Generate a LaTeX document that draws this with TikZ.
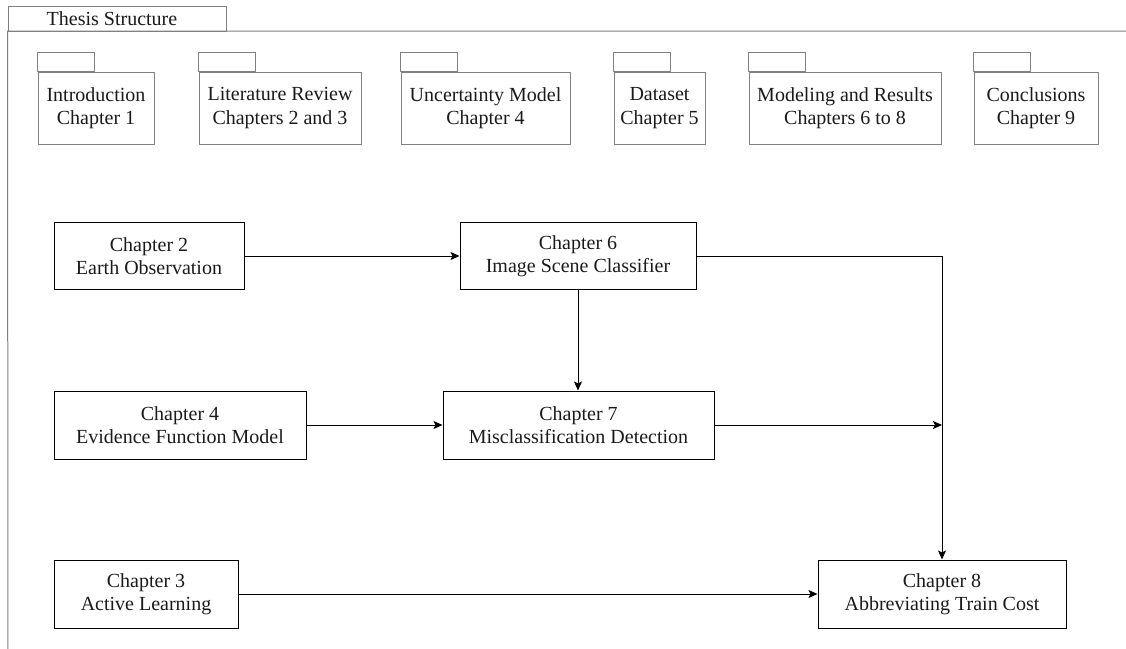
\documentclass[tikz,border=0pt]{standalone}
\usepackage{fontspec}
\setmainfont{Liberation Serif}
\usetikzlibrary{arrows.meta}
\definecolor{pkgline}{HTML}{808080}
\definecolor{txt}{HTML}{1A1A1A}
\tikzset{
  box/.style={draw=black, line width=1pt, rectangle, align=center, inner sep=0pt,
    text=txt, font=\fontsize{20}{23.5}\selectfont, minimum height=67pt},
  pkg/.style={draw=pkgline, line width=1pt, rectangle, align=center, inner sep=0pt,
    text=txt, font=\fontsize{20}{23.5}\selectfont, minimum height=72pt},
  pkgtab/.style={draw=pkgline, line width=1pt},
  frameline/.style={draw=pkgline, line width=1pt},
  link/.style={draw=black, line width=1pt, -{Stealth[length=9pt,width=8pt,inset=2pt]}},
}
\begin{document}
\begin{tikzpicture}[x=1pt, y=-1pt]
\useasboundingbox (0,0) rectangle (1126,648);

% outer frame with its title tab
\node[pkg, minimum width=218pt, minimum height=25pt] (frametab) at (117,18.5) {};
\node[text=txt, font=\fontsize{20}{23.5}\selectfont, inner sep=0pt, anchor=base] (frametitle) at (112,25) {Thesis Structure};
\coordinate (frameright) at (1130,31);
\coordinate (framebottom) at (8,652);
\draw[frameline] (frameright) -- (frametab.south west |- frameright) -- (framebottom);

% chapter packages
\node[pkg, minimum width=116pt] (p1) at (96,108)    {Introduction\\Chapter 1};
\node[pkg, minimum width=162pt] (p2) at (280,108)   {Literature Review\\Chapters 2 and 3};
\node[pkg, minimum width=169pt] (p3) at (485.5,108) {Uncertainty Model\\Chapter 4};
\node[pkg, minimum width=91pt]  (p4) at (659.5,108) {Dataset\\Chapter 5};
\node[pkg, minimum width=192pt] (p5) at (845,108)   {Modeling and Results\\Chapters 6 to 8};
\node[pkg, minimum width=124pt] (p6) at (1036,108)  {Conclusions\\Chapter 9};
\foreach \p in {p1,p2,p3,p4,p5,p6}
  \draw[pkgtab] (\p.north west) rectangle ++(57,-19);

% chapter blocks
\node[box, minimum width=190pt] (c2) at (149,256)   {Chapter 2\\Earth Observation};
\node[box, minimum width=236pt] (c6) at (578,256)   {Chapter 6\\Image Scene Classifier};
\node[box, minimum width=252pt, minimum height=68pt] (c4) at (180,425) {Chapter 4\\Evidence Function Model};
\node[box, minimum width=271pt, minimum height=68pt] (c7) at (578.5,425) {Chapter 7\\Misclassification Detection};
\node[box, minimum width=184pt, minimum height=68pt] (c3) at (146,594) {Chapter 3\\Active Learning};
\node[box, minimum width=248pt, minimum height=68pt] (c8) at (942,594) {Chapter 8\\Abbreviating Train Cost};

% connectors
\coordinate (junction) at (c7.east -| c8.north);
\draw[link] (c2.east) -- (c2.east -| c6.west);
\draw[link] (c6.south) -- (c6.south |- c7.north);
\draw[link] (c4.east) -- (c4.east -| c7.west);
\draw[link] (c7.east) -- (junction);
\draw[link] (c6.east) -- (c6.east -| c8.north) -- (c8.north);
\draw[link] (c3.east) -- (c3.east -| c8.west);
\end{tikzpicture}
\end{document}
